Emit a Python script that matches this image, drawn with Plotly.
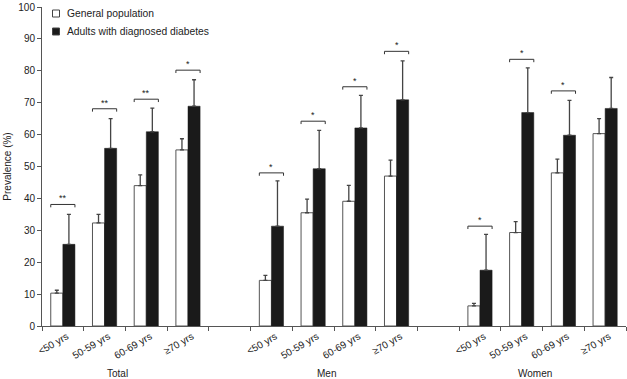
import plotly.graph_objects as go

groups = ["Total", "Men", "Women"]
ages = ["<50 yrs", "50-59 yrs", "60-69 yrs", "≥70 yrs"]
series_names = ["General population", "Adults with diagnosed diabetes"]

gen_pop = [10.3, 32.3, 44.0, 55.2, 14.3, 35.5, 39.1, 47.0, 6.3, 29.3, 48.0, 60.3]
gen_err = [0.9, 2.7, 3.4, 3.5, 1.6, 4.3, 5.0, 5.0, 0.8, 3.4, 4.3, 4.7]
diab = [25.6, 55.7, 60.9, 68.9, 31.3, 49.3, 62.1, 70.9, 17.5, 66.9, 59.8, 68.2]
diab_err = [9.4, 9.3, 7.4, 8.3, 14.2, 12.0, 10.2, 12.2, 11.2, 14.0, 10.9, 9.7]
sig_level = [38.1, 68.1, 71.1, 80.2, 48.0, 64.2, 75.0, 86.1, 31.3, 83.6, 73.7, None]
sig_mark = ["**", "**", "**", "*", "*", "*", "*", "*", "*", "*", "*", ""]

FONT = "Liberation Sans, Arial, sans-serif"
TXT = "#222222"
BARGAP = 0.42
W, H = 627, 379
ML, MR, MT, MB = 42, 1, 7, 53
PW, PH = W - ML - MR, H - MT - MB

# build categories with a blank slot between groups
cats, ticktext, gi, di, gerr, derr, idx_of = [], [], [], [], [], [], []
k = 0
for g_i, g in enumerate(groups):
    if g_i > 0:
        cats.append(f"gap{g_i}")
        ticktext.append("")
        gi.append(None); di.append(None); gerr.append(0); derr.append(0)
    for a in ages:
        cats.append(f"{g}|{a}")
        ticktext.append(a)
        gi.append(gen_pop[k]); di.append(diab[k])
        gerr.append(gen_err[k]); derr.append(diab_err[k])
        idx_of.append(len(cats) - 1)
        k += 1

fig = go.Figure()
fig.add_trace(go.Bar(
    x=cats, y=gi, name=series_names[0], showlegend=False,
    marker=dict(color="white", line=dict(color="#555555", width=1)),
    error_y=dict(type="data", array=gerr, arrayminus=[0] * len(gerr), symmetric=False,
                 color="#444444", thickness=1.3, width=2),
))
fig.add_trace(go.Bar(
    x=cats, y=di, name=series_names[1], showlegend=False,
    marker=dict(color="#1a1a1a", line=dict(color="#1a1a1a", width=0.5)),
    error_y=dict(type="data", array=derr, arrayminus=[0] * len(derr), symmetric=False,
                 color="#444444", thickness=1.3, width=2),
))

half = (1 - BARGAP) / 2
for j, (lvl, mk) in enumerate(zip(sig_level, sig_mark)):
    if lvl is None:
        continue
    c = idx_of[j]
    line = dict(color="#333333", width=1)
    fig.add_shape(type="line", xref="x", yref="y", x0=c - half, x1=c + half, y0=lvl, y1=lvl, line=line)
    fig.add_shape(type="line", xref="x", yref="y", x0=c - half, x1=c - half, y0=lvl - 0.9, y1=lvl, line=line)
    fig.add_shape(type="line", xref="x", yref="y", x0=c + half, x1=c + half, y0=lvl - 0.9, y1=lvl, line=line)
    fig.add_annotation(x=c, y=lvl, xref="x", yref="y", text=mk, showarrow=False,
                       yanchor="bottom", yshift=-1, font=dict(size=9, color=TXT, family=FONT))

for g_i, g in enumerate(groups):
    center = idx_of[g_i * 4] + 1.5
    fig.add_annotation(x=center, y=0, xref="x", yref="paper", text=g, showarrow=False,
                       yanchor="middle", yshift=-47, xshift=-8,
                       font=dict(size=10, color=TXT, family=FONT))

# custom legend (small squares + labels) in the top-left of the plot
def px2paper(px, py):
    return (px - ML) / PW, (H - MB - py) / PH

legend_fill = ["white", "#1a1a1a"]
for r, (nm, fc) in enumerate(zip(series_names, legend_fill)):
    cy = 13.5 + r * 18
    x0, y0 = px2paper(52.5, cy - 3.5)
    x1, y1 = px2paper(59.5, cy + 3.5)
    fig.add_shape(type="rect", xref="paper", yref="paper", x0=x0, x1=x1, y0=y1, y1=y0,
                  line=dict(color="#444444", width=1), fillcolor=fc)
    tx, ty = px2paper(64.5, cy)
    fig.add_annotation(x=tx, y=ty, xref="paper", yref="paper", text=nm, showarrow=False,
                       xanchor="left", yanchor="middle",
                       font=dict(size=10.3, color=TXT, family=FONT))

fig.update_layout(
    width=W, height=H,
    margin=dict(l=ML, r=MR, t=MT, b=MB),
    paper_bgcolor="white", plot_bgcolor="white",
    barmode="group", bargap=BARGAP, bargroupgap=0,
    font=dict(family=FONT, size=10, color=TXT),
    showlegend=False,
)
fig.update_xaxes(
    type="category", categoryorder="array", categoryarray=cats,
    range=[-0.5, len(cats) - 0.5],
    tickmode="array", tickvals=cats, ticktext=ticktext, tickson="boundaries",
    ticks="outside", ticklen=4, tickcolor="#555555", tickangle=-30, ticklabelshift=4,
    showline=True, linecolor="#555555", linewidth=1, showgrid=False,
    tickfont=dict(size=10, color=TXT, family=FONT), automargin=False,
)
fig.update_yaxes(
    range=[0, 100], tickvals=[0, 10, 20, 30, 40, 50, 60, 70, 80, 90, 100],
    ticks="outside", ticklen=4, tickcolor="#555555",
    showline=True, linecolor="#555555", linewidth=1, showgrid=False, zeroline=False,
    title=dict(text="Prevalence (%)", font=dict(size=10, color=TXT, family=FONT), standoff=4),
    tickfont=dict(size=10, color=TXT, family=FONT), automargin=False,
)
fig.write_html("out.html", config={"displayModeBar": False},
               post_script="document.body.style.margin='0';document.body.style.overflow='hidden';")
